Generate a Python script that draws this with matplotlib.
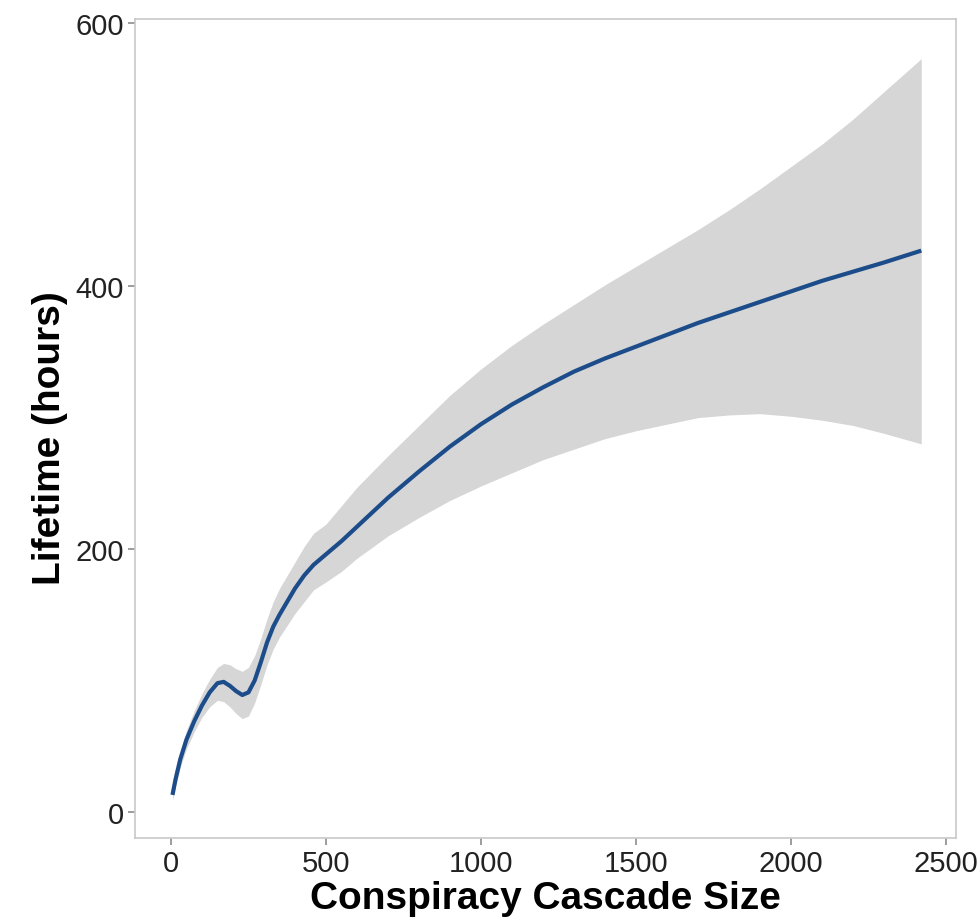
import matplotlib.pyplot as plt
import numpy as np

# smoothed fit of lifetime vs. cascade size, with its confidence band
cascade_size = [5, 15, 30, 50, 75, 100, 125, 150, 170, 190, 210, 230, 250, 270, 290,
                310, 330, 350, 375, 400, 430, 460, 500, 550, 600, 700, 800, 900,
                1000, 1100, 1200, 1300, 1400, 1500, 1600, 1700, 1800, 1900, 2000,
                2100, 2200, 2300, 2420]
lifetime_fit = [13, 25, 40, 55, 69, 81, 91, 98, 99, 96, 92, 89, 91, 100, 114,
                129, 141, 150, 160, 170, 180, 188, 196, 206, 217, 239, 259, 278,
                295, 310, 323, 335, 345, 354, 363, 372, 380, 388, 396,
                404, 411, 418, 427]
lifetime_lo = [9, 20, 34, 48, 61, 72, 80, 85, 84, 80, 75, 71, 73, 83, 97,
               112, 124, 133, 142, 151, 160, 169, 175, 183, 193, 210, 224, 237,
               248, 258, 268, 276, 284, 290, 295, 300, 302, 303, 301,
               298, 294, 288, 280]
lifetime_hi = [17, 30, 46, 62, 77, 90, 101, 110, 113, 112, 109, 107, 110, 119, 132,
               147, 160, 170, 180, 190, 202, 212, 219, 233, 247, 271, 294, 317,
               337, 355, 371, 386, 401, 415, 429, 443, 458, 474, 491,
               508, 527, 548, 573]

x_ticks = [0, 500, 1000, 1500, 2000, 2500]
y_ticks = [0, 200, 400, 600]

plt.rcParams['font.family'] = ['Liberation Sans', 'DejaVu Sans']

fig = plt.figure(figsize=(9.78, 9.2), dpi=100)
ax = fig.add_axes([0.138, 0.088, 0.8395, 0.890])

ax.fill_between(cascade_size, lifetime_lo, lifetime_hi, color='#d6d6d6', linewidth=0)
ax.plot(cascade_size, lifetime_fit, color='#1c4d8a', linewidth=3.0,
        solid_capstyle='butt', solid_joinstyle='round')

ax.set_xlim(-116, 2532)
ax.set_ylim(-19.8, 603)
ax.set_xticks(x_ticks)
ax.set_yticks(y_ticks)

for side in ax.spines.values():
    side.set_color('#c8c8c8')
    side.set_linewidth(1.2)
ax.tick_params(axis='both', direction='out', length=5, width=1.2, color='#8c8c8c',
               labelsize=21, labelcolor='#222222', pad=3)

ax.set_xlabel('Conspiracy Cascade Size', fontsize=28, fontweight='bold', labelpad=2)
ax.set_ylabel('Lifetime (hours)', fontsize=28, fontweight='bold')
ax.yaxis.set_label_coords(-0.082, 0.49)

fig.savefig('out.png', dpi=100)
